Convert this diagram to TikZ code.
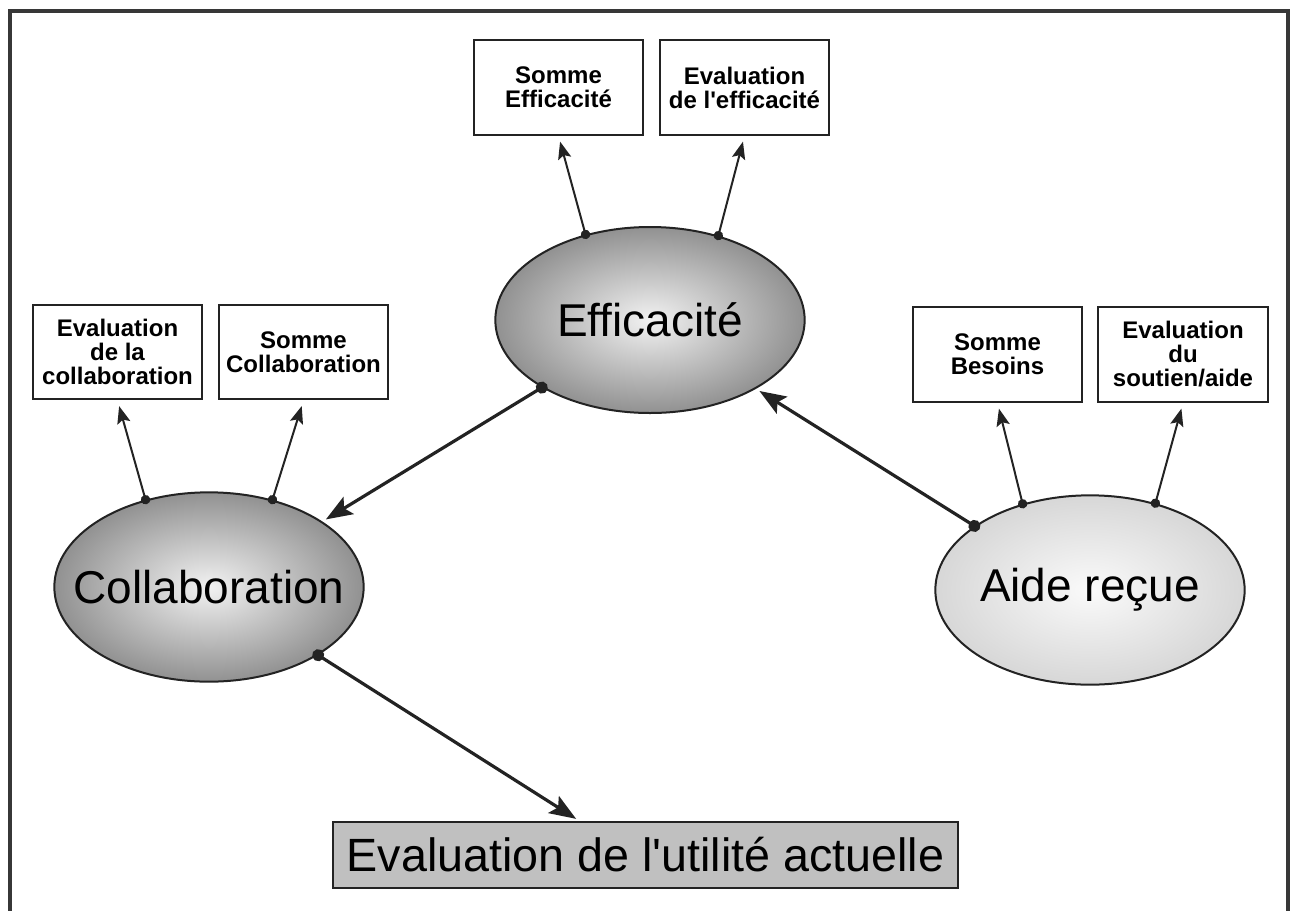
\documentclass[tikz,border=0pt]{standalone}
\usepackage{fontspec}
\setmainfont{Liberation Sans}
\usetikzlibrary{arrows.meta,shapes.geometric,calc}

\definecolor{framegray}{RGB}{55,55,55}
\definecolor{linegray}{RGB}{35,35,35}
\definecolor{boxfill}{RGB}{192,192,192}

\tikzset{every picture/.style={line width=0.75pt}}
\tikzset{
  latent/.style={ellipse, draw=linegray, line width=1.5pt, inner sep=0pt,
    minimum width=232pt, minimum height=142pt, font=\fontsize{34.5}{40}\selectfont},
  darkfill/.style={inner color={rgb,255:red,242;green,242;blue,242}, outer color={rgb,255:red,145;green,145;blue,145}},
  lightfill/.style={inner color={rgb,255:red,250;green,250;blue,250}, outer color={rgb,255:red,215;green,215;blue,215}},
  indic/.style={draw=linegray, line width=1.5pt, inner sep=0pt, minimum width=127pt,
    minimum height=71pt, align=center, font=\fontsize{18}{18}\selectfont\bfseries},
  outcome/.style={draw=linegray, fill=boxfill, line width=1.5pt, inner sep=0pt,
    minimum width=469pt, minimum height=49.5pt, font=\fontsize{35}{40}\selectfont},
  thinarrow/.style={draw=linegray, line width=1.5pt, {Circle[length=7pt]}-{Stealth[length=13pt,width=10pt,inset=2.5pt]},
    shorten <=-3.5pt, shorten >=4.5pt},
  mainarrow/.style={draw=linegray, line width=2.4pt, {Circle[length=9pt]}-{Stealth[length=20pt,width=15pt,inset=4pt]},
    shorten <=-4.5pt, shorten >=3pt}
}

\begin{document}
\begin{tikzpicture}[x=0.75pt,y=0.75pt,yscale=-1,xscale=1]
\useasboundingbox (0,0) rectangle (1290,911);

%Frame, open at the bottom
\draw [framegray, line width=3pt] (10,915) -- (10,11) -- (1288,11) -- (1288,915) ;

%Shape: Ellipse
\node [latent, darkfill, minimum height=139.5pt] (eff) at (650,320) {\makebox[0pt]{Efficacité}};
%Shape: Ellipse
\node [latent, darkfill] (col) at (209,587) {\makebox[0pt]{Collaboration}};
%Shape: Ellipse
\node [latent, lightfill] (aid) at (1090,590) {\makebox[0pt]{Aide reçue}};

%Shape: Rectangle
\node [indic] (sEff) at (558.5,87.5) {Somme\\Efficacité};
\node [indic] (eEff) at (744.5,87.5) {Evaluation\\de l\textquotesingle efficacité};
%Shape: Rectangle
\node [indic] (eCol) at (117.5,352) {Evaluation\\de la\\collaboration};
\node [indic] (sCol) at (303.5,352) {Somme\\Collaboration};
%Shape: Rectangle
\node [indic] (sBes) at (997.5,354.5) {Somme\\Besoins};
\node [indic] (eAid) at (1183,354.5) {Evaluation\\du\\soutien/aide};
%Shape: Rectangle
\node [outcome] (util) at (645.5,855) {Evaluation de l\textquotesingle utilité actuelle};

%Straight Lines
\draw [thinarrow] (eff.127) -- (sEff.south) ;
\draw [thinarrow] (eff.51) -- (eEff.south) ;
\draw [thinarrow] (col.126) -- (eCol.south) ;
\draw [thinarrow] (col.54) -- (sCol.south) ;
\draw [thinarrow] (aid.128) -- (sBes.south) ;
\draw [thinarrow] (aid.53) -- (eAid.south) ;

\draw [mainarrow] (eff.212) -- (col.30) ;
\draw [mainarrow] (aid.151) -- (eff.327) ;
\draw [mainarrow] (col.328) -- ($(util.north)+(-66,0)$) ;

\end{tikzpicture}
\end{document}
